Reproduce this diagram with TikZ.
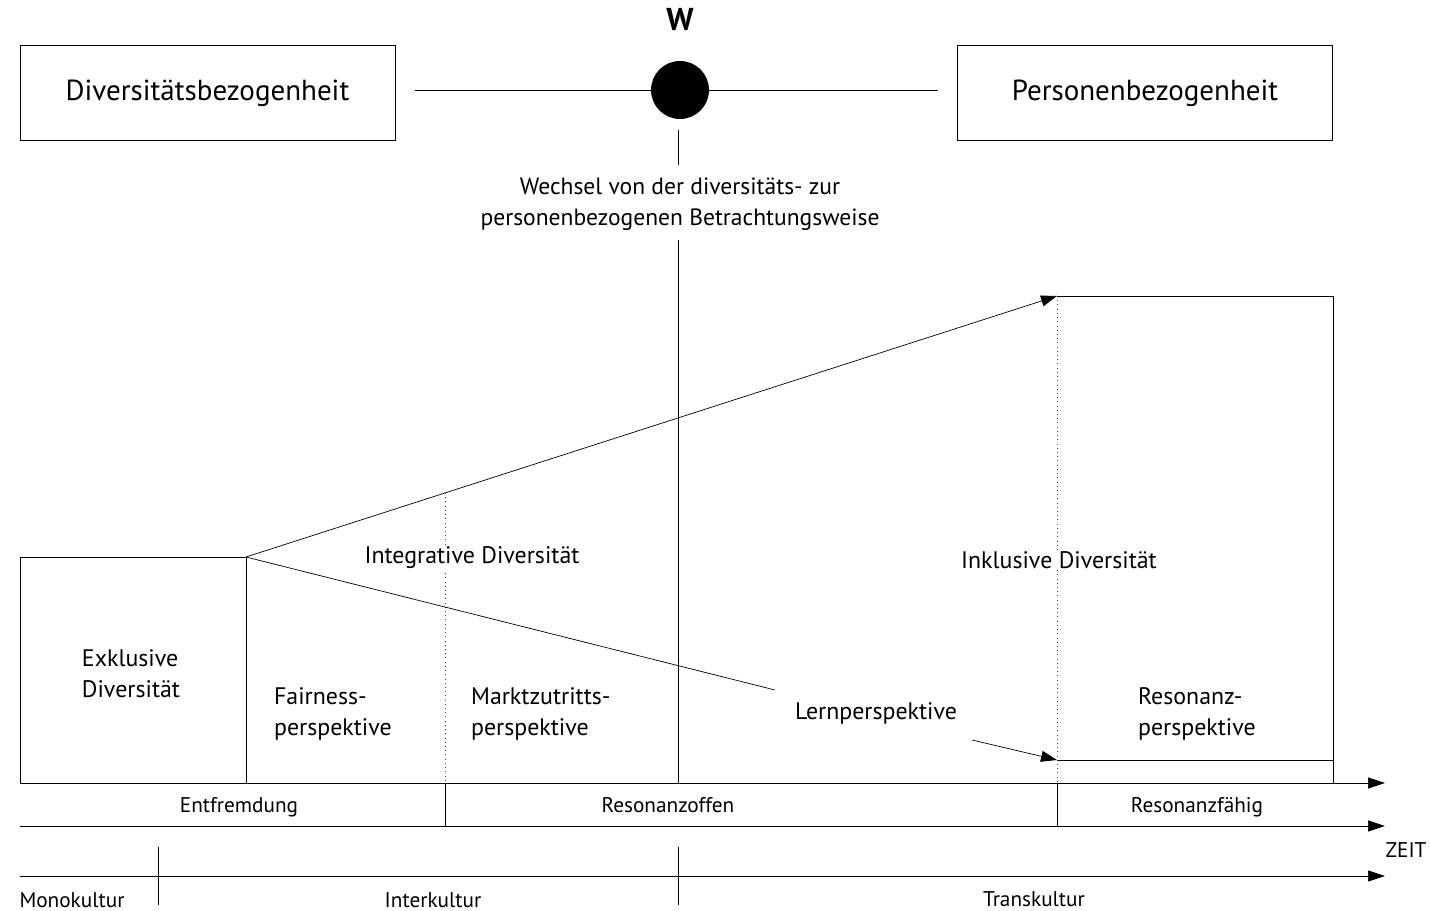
\documentclass[tikz,border=0pt]{standalone}
\usepackage{fontspec}
\setmainfont{PT Sans}
\usetikzlibrary{arrows.meta,positioning,calc}
\tikzset{
  kasten/.style={draw,thin,minimum width=7.5cm,minimum height=1.9cm,font=\fontsize{16.5}{20}\selectfont,
                 text height=0.9em,text depth=0pt},
  etikett/.style={font=\fontsize{13.6}{17.5}\selectfont,align=left,inner sep=1pt},
  klein/.style={font=\fontsize{12.1}{15}\selectfont,inner sep=1pt,anchor=base},
  pfeil/.style={-{Triangle[length=3.2mm,width=2.2mm]},thin},
  achse/.style={-{Triangle[length=3.4mm,width=2.2mm]},thin},
  punktiert/.style={dotted,thin,black!70},
}
\begin{document}
\begin{tikzpicture}[x=0.02cm,y=-0.02cm]
\useasboundingbox (0,0) rectangle (1430,911);

% obere Ebene
\node[kasten] (div) at (207.5,92.5) {Diversitätsbezogenheit};
\node[kasten] (pers) at (1145,92.5) {Personenbezogenheit};
\node[circle,fill=black,minimum size=1.16cm,inner sep=0pt] (w) at (680,90) {};
\node[font=\fontsize{18}{20}\selectfont\bfseries] (wlab) at (680,20) {W};
\coordinate (hl) at (415,90);
\coordinate (hr) at (938,90);
\draw[thin] (hl) -- (w) -- (hr);
\node[font=\fontsize{13.4}{17.5}\selectfont,align=center] (wechsel) at (680,204)
  {Wechsel von der diversitäts- zur\\personenbezogenen Betrachtungsweise};
\coordinate (w1) at (678,130);
\coordinate (w2) at (678,165);
\draw[thin] (w1) -- (w2);
\coordinate (m1) at (678,240);
\coordinate (m2) at (678,783);
\draw[thin] (m1) -- (m2);

% Diversitaetsformen
\node[draw,thin,minimum width=4.52cm,minimum height=4.52cm] (exkl) at (133,670) {};
\node[etikett] (exkltxt) at (131,674) {Exklusive\\Diversität};
\coordinate (spitze) at (246,557);
\coordinate (inkl) at (1057,296);
\coordinate (lern) at (775,690);
\coordinate (ro) at (1333,296);
\coordinate (ru) at (1333,783);
\coordinate (ul) at (1057,760);
\coordinate (ur) at (1333,760);
\coordinate (lp) at (972,740);
\coordinate (d1o) at (445,493);
\coordinate (d1u) at (445,783);
\coordinate (d2u) at (1057,783);
\draw[punktiert] (d1o) -- (d1u);
\draw[punktiert] (inkl) -- (d2u);
\draw[pfeil] (spitze) -- (inkl);
\draw[thin] (spitze) -- (lern);
\draw[thin] (inkl) -- (ro) -- (ru);
\draw[thin] (ul) -- (ur);
\draw[pfeil] (lp) -- (ul);

\node[etikett,fill=white] (integ) at (472,558) {Integrative Diversität};
\node[etikett,fill=white] (inklt) at (1059,560) {Inklusive Diversität};
\node[etikett,anchor=west] (fair) at (272,714) {Fairness-\\perspektive};
\node[etikett,anchor=west] (markt) at (469,714) {Marktzutritts-\\perspektive};
\node[etikett] (lernt) at (876,713) {Lernperspektive};
\node[etikett,anchor=west] (reso) at (1136,714) {Resonanz-\\perspektive};

% Zeitachsen
\coordinate (a1l) at (20,783);
\coordinate (a1r) at (1385,783);
\coordinate (a2l) at (20,826);
\coordinate (a2r) at (1385,826);
\coordinate (a3l) at (20,876);
\coordinate (a3r) at (1385,876);
\draw[achse] (a1l) -- (a1r);
\draw[achse] (a2l) -- (a2r);
\draw[achse] (a3l) -- (a3r);
\foreach \x in {445,1057}{\draw[thin] (\x,783) -- (\x,826);}
\foreach \x in {158,678}{\draw[thin] (\x,847) -- (\x,905);}

\node[klein] (entf) at (239,812) {Entfremdung};
\node[klein] (roff) at (668,812) {Resonanzoffen};
\node[klein] (rfae) at (1197,812) {Resonanzfähig};
\node[klein] (zeit) at (1406,857) {ZEIT};
\node[klein] (mono) at (72,907) {Monokultur};
\node[klein] (inter) at (433,907) {Interkultur};
\node[klein] (trans) at (1034,906) {Transkultur};

\end{tikzpicture}
\end{document}
